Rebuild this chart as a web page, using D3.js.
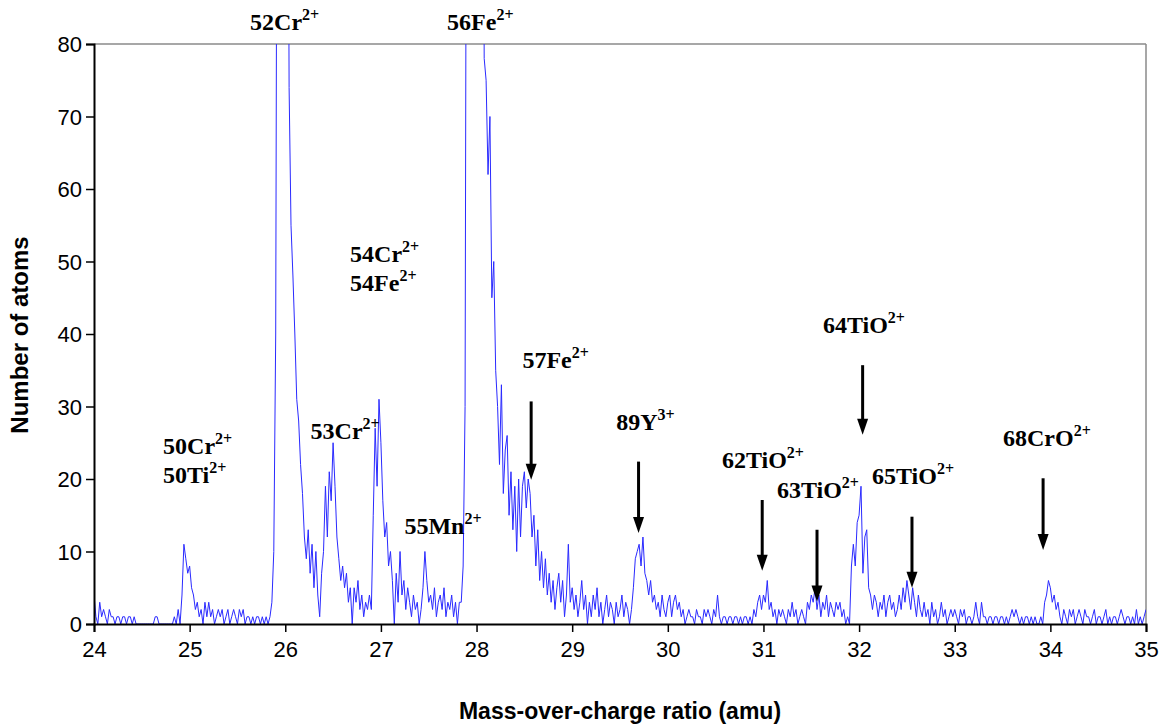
<!DOCTYPE html>
<html>
<head>
<meta charset="utf-8">
<script src="https://cdn.jsdelivr.net/npm/d3@7"></script>
<style>
  html, body { margin: 0; padding: 0; background: #ffffff; }
  svg { display: block; }
</style>
</head>
<body>
<svg id="chart" width="1164" height="727"></svg>
<script>
// ---------- DATA (counts per 0.02 amu bin) ----------
const massStart = 24;
const massStep = 0.02;
const counts24 = [4,1,0,3,1,2,1,0,2,1, 1,0,1,1,0,1,1,0,1,1, 0,1,0,0,0,0,0,0,0,0, 0,0,1,1,0,0,0,0,0,0, 0,0,1,0,2,0,4,11,9,7];
const counts25 = [8,5,4,2,3,1,2,0,3,1, 3,1,2,0,1,2,1,2,0,1, 2,0,1,2,1,0,2,1,2,0, 1,1,0,1,0,1,1,0,1,0, 1,0,1,3,10,40,150,150,150,150];
const counts26 = [150,150,74,55,48,40,31,28,22,18, 12,9,13,7,11,5,10,4,1,7, 10,19,12,21,17,25,19,12,9,6, 8,5,7,3,5,0,5,3,6,2, 4,1,3,2,4,2,15,27,19,31];
const counts27 = [25,17,12,14,8,10,6,0,7,3, 10,4,6,2,5,3,1,4,2,3, 0,2,5,10,6,3,4,2,5,1, 3,4,2,5,1,3,2,4,1,3, 0,3,3,8,30,150,150,150,150,150];
const counts28 = [150,150,150,150,78,75,62,70,45,50, 35,30,22,33,18,24,26,15,21,13, 19,10,20,12,19,21,16,20,18,12, 15,8,13,6,10,5,9,4,7,3, 6,2,5,7,3,6,1,4,11,3];
const counts29 = [5,2,4,1,3,6,2,4,0,3, 1,4,2,5,1,3,0,2,4,1, 3,2,0,3,1,2,4,1,3,2, 0,2,5,9,10,11,8,12,7,6, 4,6,3,4,2,3,1,4,2,1];
const counts30 = [3,4,1,3,4,2,3,1,2,0, 1,2,1,1,0,2,1,1,0,2, 1,2,1,0,2,1,4,1,0,1, 1,0,1,1,0,1,1,0,1,0, 1,1,0,1,0,2,1,3,4,2];
const counts31 = [4,3,6,2,3,1,2,0,2,1, 2,1,0,2,1,3,1,2,0,1, 2,1,0,3,2,4,3,5,2,4, 1,3,2,4,1,3,2,1,3,2, 3,1,2,0,1,0,8,11,8,14];
const counts32 = [15,19,7,12,13,5,4,2,4,3, 1,3,2,4,1,3,4,2,3,1, 2,4,2,5,3,6,4,2,5,3, 1,4,2,1,3,1,2,0,3,1, 2,0,1,3,1,2,0,1,2,1];
const counts33 = [2,1,0,2,1,2,0,1,1,0, 1,3,1,0,3,1,1,0,1,1, 0,1,1,0,1,1,0,1,0,1, 2,1,2,1,0,1,0,1,1,0, 1,0,1,0,0,1,0,3,4,6];
const counts34 = [5,3,4,2,3,1,0,2,1,0, 2,1,2,0,1,2,1,0,2,1, 1,0,1,2,0,1,1,0,1,2, 0,1,0,1,1,0,1,2,1,0, 1,1,0,1,0,2,0,1,0,1];
const counts35 = [2];

const xTicks = [24,25,26,27,28,29,30,31,32,33,34,35];
const yTicks = [0,10,20,30,40,50,60,70,80];

const peakLabels = [
  {text:"52Cr", sup:"2+", m:25.632, c:81.9},
  {text:"56Fe", sup:"2+", m:27.692, c:81.9},
  {text:"54Cr", sup:"2+", m:26.678, c:49.9},
  {text:"54Fe", sup:"2+", m:26.678, c:45.9},
  {text:"50Cr", sup:"2+", m:24.722, c:23.45},
  {text:"50Ti", sup:"2+", m:24.722, c:19.4},
  {text:"53Cr", sup:"2+", m:26.265, c:25.45},
  {text:"55Mn", sup:"2+", m:27.246, c:12.4},
  {text:"57Fe", sup:"2+", m:28.48, c:35.3},
  {text:"89Y", sup:"3+", m:29.46, c:26.75},
  {text:"62TiO", sup:"2+", m:30.566, c:21.5},
  {text:"63TiO", sup:"2+", m:31.141, c:17.35},
  {text:"64TiO", sup:"2+", m:31.622, c:40.2},
  {text:"65TiO", sup:"2+", m:32.135, c:19.3},
  {text:"68CrO", sup:"2+", m:33.505, c:24.55}
];
const arrowMass = [28.571, 29.694, 30.987, 31.56, 32.037, 32.553, 33.924];
const arrowFrom = [30.7, 22.4, 17.1, 13.0, 35.7, 14.8, 20.1];
const arrowTo   = [19.9, 12.55, 7.35, 3.1, 26.1, 5.0, 10.2];

// ---------- CHART ----------
const counts = [].concat(counts24, counts25, counts26, counts27, counts28, counts29,
                         counts30, counts31, counts32, counts33, counts34, counts35);
const series = counts.map((c, i) => ({m: massStart + i * massStep, c}));

const svg = d3.select("#chart");
const L = 94, R = 1146, T = 44, B = 624;
const x = d3.scaleLinear().domain([24, 35]).range([L, R]);
const y = d3.scaleLinear().domain([0, 80]).range([B, T]);

svg.append("defs").append("clipPath").attr("id", "plotclip")
  .append("rect").attr("x", L).attr("y", T).attr("width", R - L).attr("height", B - T);

// frame (grey top/right)
svg.append("line").attr("x1", L).attr("x2", R).attr("y1", T).attr("y2", T)
  .attr("stroke", "#8a8a8a").attr("stroke-width", 1.5);
svg.append("line").attr("x1", R).attr("x2", R).attr("y1", T).attr("y2", B)
  .attr("stroke", "#8a8a8a").attr("stroke-width", 1.5);

// data line
const line = d3.line().x(d => x(d.m)).y(d => y(d.c));
svg.append("path").datum(series)
  .attr("clip-path", "url(#plotclip)")
  .attr("fill", "none")
  .attr("stroke", "#2a2aff")
  .attr("stroke-width", 1)
  .attr("stroke-linejoin", "miter")
  .attr("d", line);

// axes
const xAxis = d3.axisBottom(x).tickValues(xTicks).tickSize(8).tickPadding(9).tickFormat(d3.format("d"));
const gx = svg.append("g").attr("transform", `translate(0,${B})`).call(xAxis);
const yAxis = d3.axisLeft(y).tickValues(yTicks).tickSize(8).tickPadding(4).tickFormat(d3.format("d"));
const gy = svg.append("g").attr("transform", `translate(${L},0)`).call(yAxis);
[gx, gy].forEach(g => {
  g.select(".domain").attr("stroke", "#000").attr("stroke-width", 2);
  g.selectAll(".tick line").attr("stroke", "#000").attr("stroke-width", 1.5);
  g.selectAll(".tick text").attr("fill", "#000")
    .style("font-family", "'Liberation Sans', Arial, sans-serif").style("font-size", "22px");
});
gy.selectAll(".tick text").attr("dy", "0.36em");

// axis titles
svg.append("text").attr("x", 620).attr("y", 719)
  .attr("text-anchor", "middle")
  .style("font-family", "'Liberation Sans', Arial, sans-serif")
  .style("font-weight", "bold").style("font-size", "23px")
  .text("Mass-over-charge ratio (amu)");
svg.append("text")
  .attr("transform", `translate(28,335) rotate(-90)`)
  .attr("text-anchor", "middle")
  .style("font-family", "'Liberation Sans', Arial, sans-serif")
  .style("font-weight", "bold").style("font-size", "24px")
  .text("Number of atoms");

// peak labels
const lab = svg.append("g")
  .style("font-family", "'Liberation Serif', 'Times New Roman', serif")
  .style("font-weight", "bold").attr("fill", "#000");
peakLabels.forEach(p => {
  const t = lab.append("text").attr("x", x(p.m)).attr("y", y(p.c)).style("font-size", "24px");
  t.append("tspan").text(p.text);
  t.append("tspan").attr("dy", -10).style("font-size", "16px").text(p.sup);
});

// arrows
const arr = svg.append("g");
arrowMass.forEach((m, i) => {
  const ax = x(m), y0 = y(arrowFrom[i]), y1 = y(arrowTo[i]);
  arr.append("line").attr("x1", ax).attr("x2", ax).attr("y1", y0).attr("y2", y1 - 12)
    .attr("stroke", "#000").attr("stroke-width", 3);
  arr.append("path")
    .attr("d", `M${ax - 5.5},${y1 - 16} L${ax + 5.5},${y1 - 16} L${ax},${y1} Z`)
    .attr("fill", "#000");
});
</script>
</body>
</html>
